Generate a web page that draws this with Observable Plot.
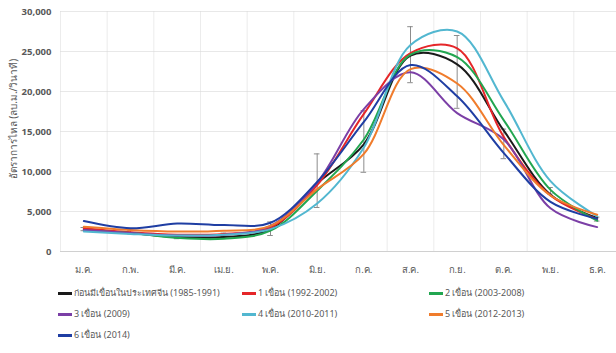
<!DOCTYPE html>
<html>
<head>
<meta charset="utf-8">
<script src="https://cdn.jsdelivr.net/npm/d3@7"></script>
<script src="https://cdn.jsdelivr.net/npm/@observablehq/plot@0.6"></script>
<style>
  body { margin: 0; background: #fff; font-family: "Noto Sans", "DejaVu Sans", sans-serif; }
  #wrap { position: relative; width: 616px; height: 353px; overflow: hidden; }
  #chart { position: absolute; left: 0; top: 0; }
  .ytitle { position: absolute; left: 13px; top: 119px; transform: translate(-50%, -50%) rotate(-90deg);
            white-space: nowrap; font-size: 10px; color: #595959; }
  .leg { position: absolute; font-size: 9px; color: #595959; white-space: nowrap; display: flex; align-items: center; }
  .leg i { display: inline-block; width: 14px; height: 3px; margin-right: 2px; }
</style>
</head>
<body>
<div id="wrap">
  <div id="chart"></div>
  <div class="ytitle">อัตราการไหล (ลบ.ม./วินาที)</div>
  <div id="legend"></div>
</div>
<script>
// Months (Thai abbreviations)
const months = ["ม.ค.", "ก.พ.", "มี.ค.", "เม.ย.", "พ.ค.", "มิ.ย.", "ก.ค.", "ส.ค.", "ก.ย.", "ต.ค.", "พ.ย.", "ธ.ค."];

// Mean monthly discharge (m³/s) for each dam period
const seriesNames = [
  "ก่อนมีเขื่อนในประเทศจีน (1985-1991)",
  "1 เขื่อน (1992-2002)",
  "2 เขื่อน (2003-2008)",
  "3 เขื่อน (2009)",
  "4 เขื่อน (2010-2011)",
  "5 เขื่อน (2012-2013)",
  "6 เขื่อน (2014)"
];
const seriesColors = ["#1a1a1a", "#e52629", "#22a650", "#7b3fa6", "#52b7d0", "#f07c2c", "#1f3ea3"];

const flowBefore = [2800, 2300, 1800, 1800, 2800, 8500, 13400, 24500, 23400, 15100, 7100, 4200];
const flowDam1   = [2900, 2400, 2100, 2200, 3000, 8300, 17200, 24800, 25400, 14300, 7000, 4050];
const flowDam2   = [2600, 2300, 1700, 1600, 2600, 7600, 14000, 24600, 24300, 16400, 7700, 3850];
const flowDam3   = [2700, 2300, 2000, 2100, 3200, 8600, 17800, 22400, 17300, 14000, 5400, 3050];
const flowDam4   = [2500, 2200, 2000, 2100, 2800, 6000, 13000, 25800, 27500, 18800, 8800, 4400];
const flowDam5   = [3100, 2700, 2500, 2600, 3200, 7800, 12200, 22800, 21000, 13300, 7000, 4600];
const flowDam6   = [3800, 2900, 3500, 3300, 3600, 8700, 16200, 23300, 19400, 12300, 6200, 4100];
const allSeries = [flowBefore, flowDam1, flowDam2, flowDam3, flowDam4, flowDam5, flowDam6];

// Error-bar range per month
const errLow  = [2600, 2200, 1600, 1900, 2000, 5500, 9900, 21100, 17900, 11600, 7200, 3800];
const errHigh = [3000, 2600, 1900, 2300, 3700, 12200, 17600, 28100, 27000, 15300, 8000, 4300];

const yTicks = [0, 5000, 10000, 15000, 20000, 25000, 30000];

const rows = [];
allSeries.forEach((vals, s) => vals.forEach((v, i) => rows.push({series: seriesNames[s], m: i, v})));
const errs = months.map((_, i) => ({m: i, lo: errLow[i], hi: errHigh[i]}));
const bounds = d3.range(0, 12).map(i => i - 0.5);
const capW = 0.06;

const chart = Plot.plot({
  width: 616,
  height: 283,
  marginTop: 11,
  marginBottom: 32,
  marginLeft: 60,
  marginRight: 0,
  style: {fontFamily: "'Noto Sans', 'DejaVu Sans', sans-serif", fontSize: "9.5px", color: "#595959", background: "#fff"},
  x: {domain: [-0.5, 11.5], range: [60, 620], axis: null},
  y: {domain: [0, 30000], axis: null},
  color: {domain: seriesNames, range: seriesColors},
  marks: [
    Plot.gridY(yTicks, {stroke: "#d9d9d9", strokeOpacity: 0.6}),
    Plot.ruleX(bounds, {stroke: "#d9d9d9", strokeOpacity: 0.5}),
    Plot.ruleY([0], {stroke: "#d0d0d0"}),
    Plot.axisY(yTicks, {tickSize: 0, tickPadding: 9, fontWeight: "bold", fill: "#595959", label: null}),
    Plot.axisX(d3.range(12), {tickSize: 0, tickPadding: 15, tickFormat: i => months[i], fill: "#595959", label: null}),
    Plot.ruleX(errs, {x: "m", y1: "lo", y2: "hi", stroke: "#8c8c8c", strokeWidth: 1}),
    Plot.ruleY(errs, {x1: d => d.m - capW, x2: d => d.m + capW, y: "lo", stroke: "#8c8c8c", strokeWidth: 1}),
    Plot.ruleY(errs, {x1: d => d.m - capW, x2: d => d.m + capW, y: "hi", stroke: "#8c8c8c", strokeWidth: 1}),
    Plot.line(rows, {x: "m", y: "v", z: "series", stroke: "series", strokeWidth: 2, curve: "catmull-rom"})
  ]
});
document.getElementById("chart").appendChild(chart);

// Legend below the plot, three columns
const legendPos = [[58, 293], [242, 293], [429, 293], [58, 314], [242, 314], [429, 314], [58, 335]];
const legend = document.getElementById("legend");
seriesNames.forEach((name, i) => {
  const el = document.createElement("div");
  el.className = "leg";
  el.style.left = legendPos[i][0] + "px";
  el.style.top = (legendPos[i][1] - 7) + "px";
  el.innerHTML = `<i style="background:${seriesColors[i]}"></i><span>${name}</span>`;
  legend.appendChild(el);
});
</script>
</body>
</html>
